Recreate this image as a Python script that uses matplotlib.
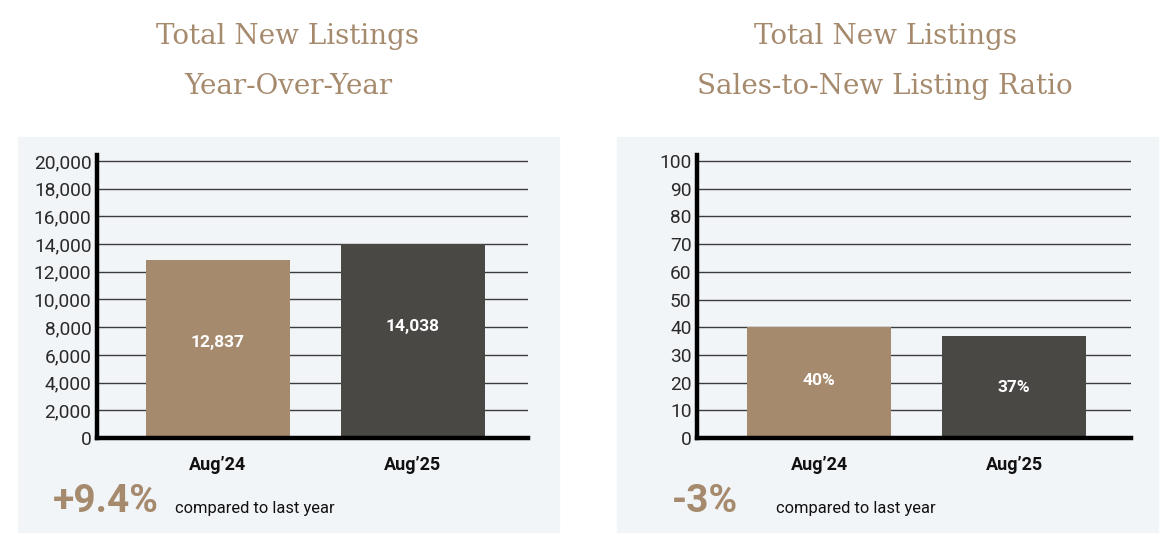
import matplotlib
matplotlib.use("Agg")
import matplotlib.pyplot as plt
from matplotlib.patches import Rectangle

# data
periods = ["Aug\u201924", "Aug\u201925"]
new_listings = [12837, 14038]
listing_labels = ["12,837", "14,038"]
ratio = [40, 37]
ratio_labels = ["40%", "37%"]
changes = ["+9.4%", "-3%"]

tan = "#a68a6d"
dark = "#4a4844"
panel_bg = "#f2f5f8"

plt.rcParams["font.family"] = ["Roboto", "DejaVu Sans"]

fig = plt.figure(figsize=(11.76, 5.52), dpi=100)

# light panels behind each chart
for x0 in [18 / 1176, 617 / 1176]:
    fig.patches.append(Rectangle((x0, 20 / 552), 541 / 1176, 395 / 552,
                                 transform=fig.transFigure, color=panel_bg, zorder=-5))


def draw_panel(rect, values, labels, ymax, yticks, ytick_labels, xlim, label_frac):
    ax = fig.add_axes(rect)
    ax.set_facecolor("none")
    ax.bar(range(len(values)), values, width=0.74, color=[tan, dark], zorder=2)
    for i, (v, lab) in enumerate(zip(values, labels)):
        ax.text(i, v * label_frac[i], lab, ha="center", va="center", color="white",
                fontsize=12.5, fontweight="bold", zorder=3)
    ax.set_ylim(0, ymax)
    ax.set_xlim(*xlim)
    ax.set_yticks(yticks)
    ax.set_yticklabels(ytick_labels, fontsize=13.8, fontweight="normal", color="#2a2a2a")
    ax.set_xticks(range(len(values)))
    ax.set_xticklabels(periods, fontsize=13, fontweight="bold", color="#111111")
    ax.tick_params(axis="both", length=0)
    ax.tick_params(axis="y", pad=4)
    ax.tick_params(axis="x", pad=13)
    for y in yticks[1:]:
        ax.axhline(y, color="#3c3c3c", lw=1, zorder=1)
    for s in ["top", "right"]:
        ax.spines[s].set_visible(False)
    for s in ["left", "bottom"]:
        ax.spines[s].set_linewidth(3.2)
        ax.spines[s].set_color("black")
        ax.spines[s].set_zorder(4)
    return ax


draw_panel([97 / 1176, 1 - 438 / 552, 431 / 1176, 283 / 552],
           new_listings, listing_labels, 20430,
           list(range(0, 20001, 2000)), [f"{v:,}" for v in range(0, 20001, 2000)],
           (-0.62, 1.59), [0.535, 0.575])

draw_panel([697 / 1176, 1 - 438 / 552, 434 / 1176, 283 / 552],
           ratio, ratio_labels, 102.2,
           list(range(0, 101, 10)), [str(v) for v in range(0, 101, 10)],
           (-0.626, 1.6), [0.52, 0.49])

# titles
title_font = ["DejaVu Serif"]
for cx, lines in [(288, ["Total New Listings", "Year-Over-Year"]),
                  (885, ["Total New Listings", "Sales-to-New Listing Ratio"])]:
    for ly, line in zip([37, 87], lines):
        fig.text(cx / 1176, 1 - ly / 552, line, ha="center", va="center",
                 family=title_font, fontsize=20, color=tan)

# change notes at the bottom
for (bx, tx), ch in zip([(53, 175), (672, 776)], changes):
    fig.text(bx / 1176, 1 - 501 / 552, ch, ha="left", va="center",
             fontsize=28, fontweight="bold", color=tan)
    fig.text(tx / 1176, 1 - 508 / 552, "compared to last year", ha="left", va="center",
             fontsize=11.9, color="#111111")

fig.savefig("out.png", dpi=100, facecolor="white")
